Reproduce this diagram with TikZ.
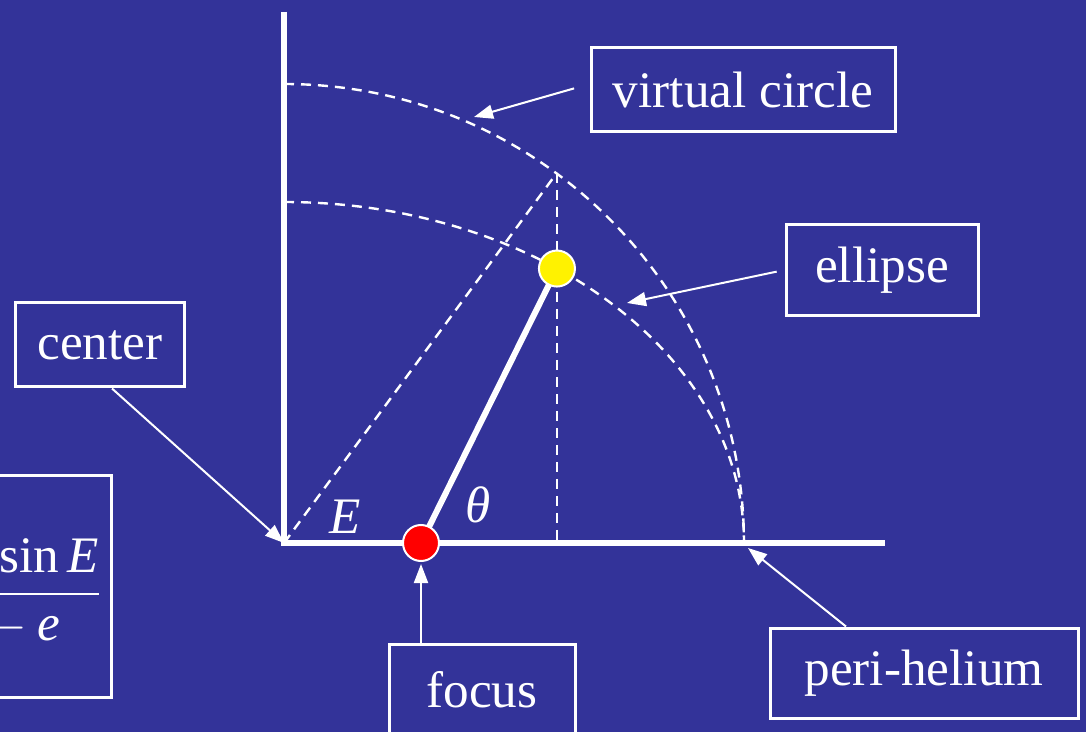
\documentclass[tikz,border=0pt]{standalone}
\usepackage{amsmath}
\usepackage{fontspec}
\setmainfont{Liberation Serif}
\usetikzlibrary{arrows.meta,positioning,calc}
\definecolor{slideblue}{RGB}{51,51,153}

\begin{document}
\begin{tikzpicture}[x=0.5pt,y=-0.5pt,
  every node/.style={text=white,font=\fontsize{25.6}{30}\selectfont},
  labelbox/.style={draw=white,line width=1.5pt,inner sep=0pt},
  dashline/.style={white,line width=1.2pt,dash pattern=on 5pt off 3.5pt},
  pointer/.style={white,line width=1pt,-{Triangle[length=9.5pt,width=7pt]}},
  axisline/.style={white,line width=3.3pt},
  dot/.style={circle,draw=white,line width=1pt,minimum size=18pt,inner sep=0pt}]
  \fill[slideblue] (0,0) rectangle (1086,732);
  \clip (0,0) rectangle (1086,732);

  % axes
  \coordinate (O) at (284,543);
  \draw[axisline] (284,12) -- (284,546);
  \draw[axisline] (281,543) -- (885,543);

  % circle and ellipse
  \draw[dashline] (284,84) arc[start angle=-90,end angle=0,radius=460];
  \draw[dashline] (284,202) arc[start angle=-90,end angle=0,x radius=460,y radius=341];
  \coordinate (C) at ($(O)+(-53.6:460)$);
  \coordinate (Pc) at ($(O)+(-53.6:460 and 341)$);
  \coordinate (Fc) at (421,543);
  \draw[dashline] (O) -- (C);
  \draw[dashline] (C) -- (C |- O);
  \draw[white,line width=3pt] (Fc) -- (Pc);
  \node[dot,fill=yellow] (P) at (Pc) {};
  \node[dot,fill=red] (F) at (Fc) {};
  \node (lblE) at (345,517) {\itshape E};
  \node (lblT) at (478,505) {\itshape θ};

  % labels
  \node[labelbox,minimum width=152pt,minimum height=42pt] (vc) at (743,90) {virtual circle};
  \node[labelbox,minimum width=96pt,minimum height=45.5pt] (el) at (882,270) {ellipse};
  \node[labelbox,minimum width=84.5pt,minimum height=42pt] (ce) at (100,345) {center};
  \node[labelbox,minimum width=93pt,minimum height=46pt] (fo) at (482,690) {focus};
  \node[labelbox,minimum width=154pt,minimum height=45pt] (ph) at (924,673) {peri-helium};
  \node[labelbox,anchor=east,minimum height=111pt,inner xsep=5pt] (fr) at (113,586)
    {$\dfrac{\sqrt{1-\textit{e}^2}\,\sin \textit{E}}{\cos \textit{E} - \textit{e}\kern-6pt}$};

  % pointers
  \coordinate (vcTip) at (474,117);
  \coordinate (elTip) at (627,303);
  \coordinate (phTip) at (748,548);
  \draw[pointer,shorten <=8pt] ([yshift=3pt]vc.west) -- (vcTip);
  \draw[pointer,shorten <=4pt] (el.west) -- (elTip);
  \draw[pointer] ([xshift=6pt]ce.south) -- (O);
  \draw[pointer,shorten >=1pt] (F |- fo.north) -- (F.south);
  \draw[pointer] ([xshift=-39pt]ph.north) -- (phTip);
\end{tikzpicture}
\end{document}
